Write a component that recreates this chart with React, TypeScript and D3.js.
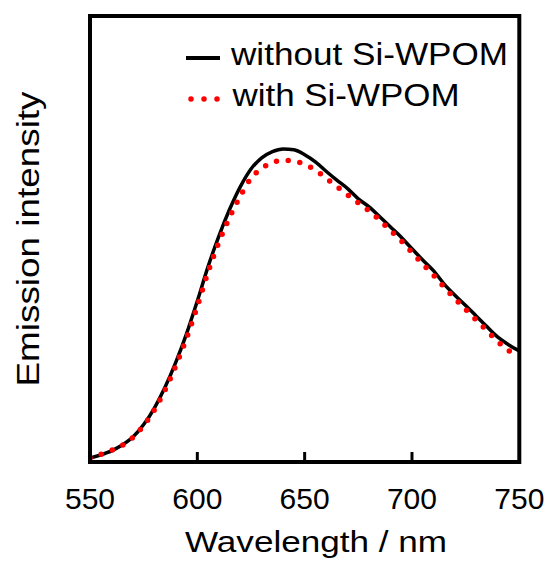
import React from "react";
import * as d3 from "d3";

const wavelengths = [550,555,560,565,570,575,580,585,590,595,600,605,610,615,620,625,630,635,640,645,650,655,660,665,670,675,680,685,690,695,700,705,710,715,720,725,730,735,740,745,750];
const withoutSiWPOM = [0.9,1.6,2.5,3.8,5.6,8.4,12.1,16.8,22.4,28.8,36.1,43.8,50.6,56.6,61.7,65.7,68.2,69.6,70.2,70.0,68.9,67.3,65.2,63.2,61.3,59.0,57.2,55.0,52.7,50.4,47.8,45.3,42.9,39.9,37.4,35.1,32.7,30.3,28.0,26.3,24.9];
const withSiWPOM = [0.9,1.7,2.6,3.7,5.5,8.2,11.7,16.2,21.6,27.8,34.9,42.6,49.2,54.8,59.6,63.6,65.8,67.2,67.6,67.5,66.7,65.5,63.6,61.8,59.9,58.1,56.3,54.2,51.9,49.6,47.0,44.4,41.9,39.2,36.6,34.2,31.8,29.4,27.0,25.0,23.5];
const xTicks = [550, 600, 650, 700, 750];
const legendLabels = ["without Si-WPOM", "with Si-WPOM"];
const xLabel = "Wavelength / nm";
const yLabel = "Emission intensity";

const W = 550, H = 561;
const L = 90, R = 519.3, T = 16, B = 462;
const FONT = "'Liberation Sans', Arial, sans-serif";

export default function App() {
  const x = d3.scaleLinear().domain([550, 750]).range([L, R]);
  const y = d3.scaleLinear().domain([0, 100]).range([B, T]);
  const line = d3.line<number>()
    .x((_, i) => x(wavelengths[i]))
    .y((d) => y(d))
    .curve(d3.curveMonotoneX);

  return (
    <svg width={W} height={H} style={{ position: "absolute", left: 0, top: 0, background: "#fff" }} fontFamily={FONT}>
      <rect x={0} y={0} width={W} height={H} fill="#fff" />
      <defs>
        <clipPath id="plot">
          <rect x={L} y={T} width={R - L} height={B - T} />
        </clipPath>
      </defs>
      <g clipPath="url(#plot)">
        <path d={line(withoutSiWPOM) || ""} fill="none" stroke="#000" strokeWidth={3.5} strokeLinejoin="round" />
        <path d={line(withSiWPOM) || ""} fill="none" stroke="#ff0000" strokeWidth={5.5} strokeDasharray="0 11.8" strokeLinecap="round" />
      </g>
      {xTicks.filter((t) => t > 550 && t < 750).map((t) => (
        <line key={"tk" + t} x1={x(t)} x2={x(t)} y1={B} y2={B - 10} stroke="#000" strokeWidth={3} />
      ))}
      <rect x={L} y={T} width={R - L} height={B - T} fill="none" stroke="#000" strokeWidth={4} />
      {xTicks.map((t) => (
        <text key={"tl" + t} x={x(t)} y={509} textAnchor="middle" fontSize={30} fill="#000">{t}</text>
      ))}
      <text x={316} y={551.5} textAnchor="middle" fontSize={30} textLength={262} lengthAdjust="spacingAndGlyphs" fill="#000">{xLabel}</text>
      <text transform={`translate(38.5, ${(T + B) / 2}) rotate(-90)`} textAnchor="middle" fontSize={31} textLength={295} lengthAdjust="spacingAndGlyphs" fill="#000">{yLabel}</text>
      <line x1={186} x2={220} y1={58} y2={58} stroke="#000" strokeWidth={4} />
      <text x={231} y={65} fontSize={31} textLength={277} lengthAdjust="spacingAndGlyphs" fill="#000">{legendLabels[0]}</text>
      <line x1={191} x2={218} y1={99} y2={99} stroke="#ff0000" strokeWidth={5.5} strokeDasharray="0 13" strokeLinecap="round" />
      <text x={232.5} y={106} fontSize={31} textLength={227} lengthAdjust="spacingAndGlyphs" fill="#000">{legendLabels[1]}</text>
    </svg>
  );
}
